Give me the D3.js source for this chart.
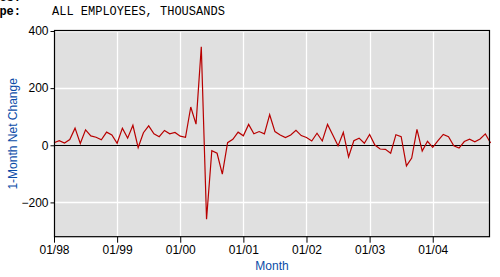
<!DOCTYPE html>
<html>
<head>
<meta charset="utf-8">
<script src="https://cdn.jsdelivr.net/npm/d3@7"></script>
<style>
  body { margin: 0; background: #fff; }
  svg { display: block; }
</style>
</head>
<body>
<div id="chart"></div>
<script>
// monthly net change, Jan 1998 .. Dec 2004
const startYear = 1998;
const netChange = [
  9, 16, 8, 20, 60, 6, 54, 33, 28, 19, 46, 36,
  7, 60, 25, 70, -8, 44, 68, 40, 30, 52, 40, 45,
  32, 28, 134, 74, 345, -259, -19, -28, -101, 9, 21, 46,
  33, 73, 40, 48, 40, 107, 48, 36, 27, 36, 52, 34,
  27, 15, 42, 15, 73, 36, -2, 45, -41, 16, 25, 7,
  38, 1, -13, -14, -28, 37, 30, -72, -45, 56, -20, 14,
  -7, 16, 38, 30, -2, -10, 13, 21, 12, 22, 40, 8
];
const yTicks = [-200, 0, 200, 400];
const xTickLabels = ["01/98", "01/99", "01/00", "01/01", "01/02", "01/03", "01/04"];
const headerLabel = "Data Type:";
const headerValue = "ALL EMPLOYEES, THOUSANDS";
const yTitle = "1-Month Net Change";
const xTitle = "Month";

const width = 500, height = 277;
const plotL = 54, plotR = 490.6, plotT = 31, plotB = 236.7;
const blue = "#0a4ca8";

const svg = d3.select("#chart").append("svg")
  .attr("width", width)
  .attr("height", height);

// header text (cut off at the left edge like the source page)
svg.append("text")
  .attr("x", 21).attr("y", 15)
  .attr("text-anchor", "end")
  .style("font-family", "'Liberation Mono', 'DejaVu Sans Mono', monospace")
  .style("font-size", "12px")
  .style("font-weight", "bold")
  .text(headerLabel);
svg.append("text")
  .attr("x", 52).attr("y", 15)
  .style("font-family", "'Liberation Mono', 'DejaVu Sans Mono', monospace")
  .style("font-size", "12px")
  .text(headerValue);
svg.append("text")
  .attr("x", 21).attr("y", 1)
  .attr("text-anchor", "end")
  .style("font-family", "'Liberation Mono', monospace")
  .style("font-size", "12px")
  .style("font-weight", "bold")
  .text("Series:");

const x = d3.scaleLinear().domain([0, netChange.length - 1]).range([plotL, plotR]);
const y = d3.scaleLinear().domain([-320, 400]).range([plotB, plotT]);

// plot background
svg.append("rect")
  .attr("x", plotL).attr("y", 30)
  .attr("width", 490 - plotL).attr("height", plotB - 30)
  .attr("fill", "#e0e0e0");

// grid
const g = svg.append("g");
xTickLabels.forEach((lab, i) => {
  if (i === 0) return;
  g.append("line")
    .attr("x1", Math.round(x(i * 12)) + 0.5).attr("x2", Math.round(x(i * 12)) + 0.5)
    .attr("y1", 30).attr("y2", plotB)
    .attr("stroke", "#fff").attr("stroke-width", 1.3);
});
yTicks.forEach((v) => {
  if (v === 0) return;
  g.append("line")
    .attr("x1", plotL).attr("x2", 490)
    .attr("y1", Math.round(y(v)) + 0.5).attr("y2", Math.round(y(v)) + 0.5)
    .attr("stroke", "#fff").attr("stroke-width", 1.3);
});

// zero line
svg.append("line")
  .attr("x1", plotL).attr("x2", 490)
  .attr("y1", Math.round(y(0)) + 0.5).attr("y2", Math.round(y(0)) + 0.5)
  .attr("stroke", "#000").attr("stroke-width", 1.2);

// data line
const line = d3.line()
  .x((d, i) => x(i))
  .y((d) => y(d));
svg.append("path")
  .datum(netChange)
  .attr("d", line)
  .attr("fill", "none")
  .attr("stroke", "#b80000")
  .attr("stroke-width", 1.2)
  .attr("stroke-linejoin", "miter");

// frame
svg.append("rect")
  .attr("x", plotL + 0.5).attr("y", 30.5)
  .attr("width", 490 - plotL - 1).attr("height", plotB - 30.5)
  .attr("fill", "none")
  .attr("stroke", "#000")
  .attr("stroke-width", 1.2);

// y axis
const yAxis = d3.axisLeft(y)
  .tickValues(yTicks)
  .tickSize(4)
  .tickPadding(2)
  .tickFormat(d3.format("d"));
const ya = svg.append("g")
  .attr("transform", "translate(" + (plotL + 0.5) + ",0)")
  .call(yAxis);
ya.select(".domain").remove();
ya.selectAll("text")
  .style("font-family", "Arial, 'Liberation Sans', sans-serif")
  .style("font-size", "12px")
  .attr("fill", "#000");

// x axis
const xAxis = d3.axisBottom(x)
  .tickValues(xTickLabels.map((d, i) => i * 12))
  .tickSize(6)
  .tickPadding(3)
  .tickFormat((d) => xTickLabels[d / 12]);
const xa = svg.append("g")
  .attr("transform", "translate(0," + plotB + ")")
  .call(xAxis);
xa.select(".domain").remove();
xa.selectAll("text")
  .style("font-family", "Arial, 'Liberation Sans', sans-serif")
  .style("font-size", "12px")
  .attr("fill", "#000");

// axis titles
svg.append("text")
  .attr("transform", "translate(17," + ((plotT + plotB) / 2) + ") rotate(-90)")
  .attr("text-anchor", "middle")
  .style("font-family", "Arial, 'Liberation Sans', sans-serif")
  .style("font-size", "12px")
  .attr("fill", blue)
  .text(yTitle);
svg.append("text")
  .attr("x", 272).attr("y", 270)
  .attr("text-anchor", "middle")
  .style("font-family", "Arial, 'Liberation Sans', sans-serif")
  .style("font-size", "12px")
  .attr("fill", blue)
  .text(xTitle);
</script>
</body>
</html>
